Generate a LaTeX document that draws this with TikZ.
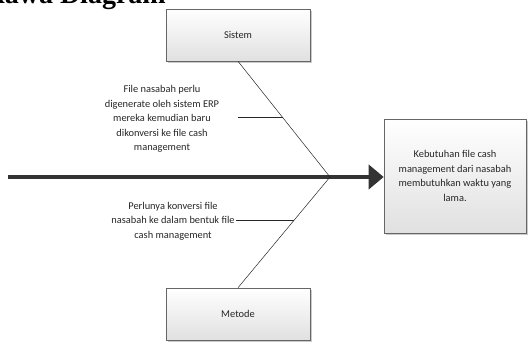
\documentclass[tikz,border=0pt]{standalone}
\usepackage{fontspec}
\setmainfont{Carlito}
\newfontfamily\judulfont{Liberation Serif}
\usetikzlibrary{arrows.meta,shadows,calc}

\begin{document}
\begin{tikzpicture}[x=1pt,y=-1pt,
  kotak/.style={draw=black!60,line width=0.6pt,top color=white,bottom color=black!12,
    minimum width=144pt,minimum height=52pt,inner sep=0pt,
    drop shadow={shadow xshift=2pt,shadow yshift=-2pt,opacity=0.35,fill=black!60}},
  teks/.style={align=center,text=black!85,font=\fontsize{10.4}{14.5}\selectfont},
  tulang/.style={draw=black!85,line width=0.5pt}]
\useasboundingbox (0,0) rectangle (529,342);
\clip (0,0) rectangle (529,342);
\node (judul) [anchor=base east,inner sep=0pt,font=\judulfont\bfseries\fontsize{28}{32}\selectfont] at (166,4) {Ishikawa Diagram};
\node (sistem) [kotak,teks] at (238,35) {Sistem};
\node (metode) [kotak,teks] at (238,314) {Metode};
\node (akibat) [kotak,teks,minimum width=142pt,minimum height=114pt] at (455,176)
  {Kebutuhan file cash\\management dari nasabah\\membutuhkan waktu yang\\lama.};
\coordinate (ekor) at (8,177);
\coordinate (kepala) at (330,177);
\draw [line width=4pt,draw=black!80,-{Triangle[length=15pt,width=24pt]}] (ekor) -- (akibat.west |- ekor);
\draw [tulang] (sistem.south) -- (kepala);
\draw [tulang] (metode.north) -- (kepala);
\coordinate (cabang1) at ($(sistem.south)!0.487!(kepala)$);
\coordinate (ujung1) at ($(cabang1)+(-45,0)$);
\coordinate (cabang2) at ($(metode.north)!0.613!(kepala)$);
\coordinate (ujung2) at ($(cabang2)+(-58,0)$);
\draw [tulang] (cabang1) -- (ujung1);
\draw [tulang] (cabang2) -- (ujung2);
\node (sebab1) [teks] at (162,119) {File nasabah perlu\\digenerate oleh sistem ERP\\mereka kemudian baru\\dikonversi ke file cash\\management};
\node (sebab2) [teks] at (173,221) {Perlunya konversi file\\nasabah ke dalam bentuk file\\cash management};
\end{tikzpicture}
\end{document}
